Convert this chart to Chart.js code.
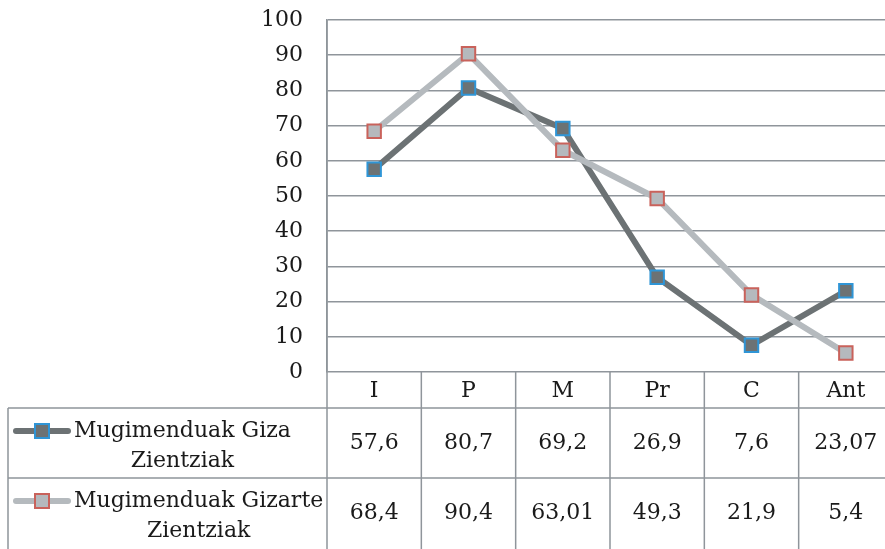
<!DOCTYPE html>
<html>
<head>
<meta charset="utf-8">
<script src="https://cdn.jsdelivr.net/npm/chart.js@4.4.1/dist/chart.umd.min.js"></script>
<style>
  html, body { margin: 0; padding: 0; background: #fff; overflow: hidden; }
  canvas { display: block; }
</style>
</head>
<body>
<!-- the original chart runs a little past the right edge of the picture -->
<canvas id="myChart" width="893" height="549"></canvas>
<script>
// values
const categories = ["I", "P", "M", "Pr", "C", "Ant"];
const gizaValues = [57.6, 80.7, 69.2, 26.9, 7.6, 23.07];
const gizarteValues = [68.4, 90.4, 63.01, 49.3, 21.9, 5.4];
const gizaName = ["Mugimenduak Giza", "Zientziak"];
const gizarteName = ["Mugimenduak Gizarte", "Zientziak"];
const yMin = 0;
const yMax = 100;
const yStep = 10;

const FONT = "DejaVu Serif";
const gridColor = "#8f959b";

const series = [
  { name: gizaName, values: gizaValues, line: "#6c7274", fill: "#6c7274", edge: "#2f95d6" },
  { name: gizarteName, values: gizarteValues, line: "#b5babe", fill: "#b5b9bd", edge: "#c9625b" }
];

const fmt = v => String(v).replace(".", ",");

// draws the data table under the plot
const dataTable = {
  id: "dataTable",
  afterDraw(chart) {
    const { ctx, chartArea } = chart;
    const x = chart.scales.x;
    const colW = x.width / categories.length;
    const top = chartArea.bottom;
    const rows = [top, top + 36, top + 106, chart.height];
    const tableLeft = 8;

    ctx.save();
    ctx.strokeStyle = gridColor;
    ctx.lineWidth = 1.5;
    ctx.beginPath();
    ctx.moveTo(tableLeft, rows[1]); ctx.lineTo(chartArea.right, rows[1]);
    ctx.moveTo(tableLeft, rows[2]); ctx.lineTo(chartArea.right, rows[2]);
    ctx.moveTo(chartArea.left, chartArea.top); ctx.lineTo(chartArea.left, rows[3]);
    ctx.moveTo(tableLeft, rows[1]); ctx.lineTo(tableLeft, rows[3]);
    for (let i = 1; i < categories.length; i++) {
      const bx = chartArea.left + colW * i;
      ctx.moveTo(bx, top); ctx.lineTo(bx, rows[3]);
    }
    ctx.stroke();

    ctx.fillStyle = "#1a1a1a";
    ctx.font = "22px '" + FONT + "'";
    ctx.textAlign = "center";
    ctx.textBaseline = "middle";
    categories.forEach((c, i) => {
      ctx.fillText(c, x.getPixelForValue(i), (rows[0] + rows[1]) / 2 + 1);
    });

    series.forEach((s, r) => {
      const rt = rows[r + 1];
      const rb = rows[r + 2];
      s.values.forEach((v, i) => {
        ctx.fillText(fmt(v), x.getPixelForValue(i), (rt + rb) / 2);
      });

      // legend key
      const ky = rt + 23;
      ctx.strokeStyle = s.line;
      ctx.lineWidth = 6;
      ctx.lineCap = "round";
      ctx.beginPath();
      ctx.moveTo(16, ky); ctx.lineTo(68, ky);
      ctx.stroke();
      ctx.fillStyle = s.fill;
      ctx.strokeStyle = s.edge;
      ctx.lineWidth = 2;
      ctx.fillRect(35, ky - 7, 14, 14);
      ctx.strokeRect(35, ky - 7, 14, 14);

      ctx.fillStyle = "#1a1a1a";
      ctx.textAlign = "left";
      ctx.fillText(s.name[0], 74, ky);
      const w = ctx.measureText(s.name[0]).width;
      ctx.textAlign = "center";
      ctx.fillText(s.name[1], 74 + w / 2, ky + 30);
    });
    ctx.restore();
  }
};

const makeSet = s => ({
  label: s.name.join(" "),
  data: s.values,
  borderColor: s.line,
  borderWidth: 6,
  backgroundColor: s.fill,
  pointStyle: "rect",
  pointRadius: 9.5,
  pointHoverRadius: 9.5,
  pointBackgroundColor: s.fill,
  pointBorderColor: s.edge,
  pointBorderWidth: 2,
  tension: 0,
  clip: false
});

new Chart(document.getElementById("myChart").getContext("2d"), {
  type: "line",
  data: {
    labels: categories,
    datasets: [makeSet(series[1]), makeSet(series[0])]
  },
  options: {
    responsive: false,
    animation: false,
    layout: { autoPadding: false, padding: { top: 20, right: 0, bottom: 0, left: 0 } },
    plugins: {
      legend: { display: false },
      tooltip: { enabled: false }
    },
    scales: {
      x: {
        type: "category",
        offset: true,
        grid: { display: false },
        border: { display: false },
        ticks: { display: false },
        afterFit: s => { s.height = 177; }
      },
      y: {
        min: yMin,
        max: yMax,
        ticks: {
          stepSize: yStep,
          padding: 24,
          color: "#1a1a1a",
          font: { family: FONT, size: 22 }
        },
        grid: { color: gridColor, lineWidth: 1.5, drawTicks: false },
        border: { display: true, color: gridColor, width: 1.5 },
        afterFit: s => {
          s.width = 327;
          s.paddingTop = 0;
          s.paddingBottom = 0;
        }
      }
    }
  },
  plugins: [dataTable]
});
</script>
</body>
</html>
